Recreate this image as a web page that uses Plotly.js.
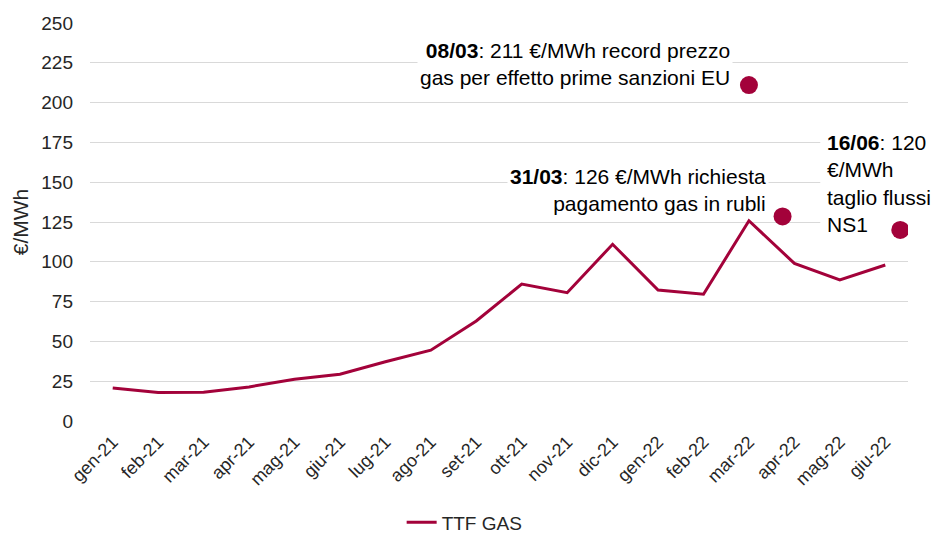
<!DOCTYPE html>
<html>
<head>
<meta charset="utf-8">
<script src="https://cdn.plot.ly/plotly-3.0.1.min.js"></script>
<style>html,body{margin:0;padding:0;background:#fff;}#chart{width:936px;height:535px;}</style>
</head>
<body>
<div id="chart"></div>
<script>
// Categories (months)
const months = ["gen-21","feb-21","mar-21","apr-21","mag-21","giu-21","lug-21","ago-21","set-21","ott-21","nov-21","dic-21","gen-22","feb-22","mar-22","apr-22","mag-22","giu-22"];
// TTF GAS monthly price (€/MWh)
const ttfGas = [20.8, 17.9, 18.0, 21.4, 26.2, 29.4, 37.2, 44.5, 62.8, 86.0, 80.6, 111.0, 82.3, 79.6, 125.8, 99.0, 88.6, 98.0];
// Events: position on the month axis (fractional month index) and value
const eventPos = [14.0, 14.74, 17.33];
const eventVal = [211, 128.5, 120];
const eventLabels = [
  "<b>08/03</b>: 211 €/MWh record prezzo<br>gas per effetto prime sanzioni EU",
  "<b>31/03</b>: 126 €/MWh richiesta<br>pagamento gas in rubli",
  "<b>16/06</b>: 120<br>€/MWh<br>taglio flussi<br>NS1"
];
const yTicks = [0,25,50,75,100,125,150,175,200,225,250];

const red = "#A3023A";
const font = "Liberation Sans, Arial, sans-serif";
const idx = months.map((m,i)=>i);

const traces = [
  {x: idx, y: ttfGas, type: "scatter", mode: "lines", name: "TTF GAS",
   line: {color: red, width: 3}},
  {x: eventPos, y: eventVal, type: "scatter", mode: "markers", showlegend: false,
   marker: {color: red, size: 18}, hoverinfo: "skip"}
];

const annSpec = [
  {xanchor: "right", align: "right", xshift: -16, yshift: 21, bg: "#ffffff"},
  {xanchor: "right", align: "right", xshift: -14, yshift: 26, bg: "#ffffff"},
  {xanchor: "left", align: "left", xshift: -76, yshift: 46, bg: "rgba(0,0,0,0)"}
];
const annotations = eventLabels.map((t,i)=>({
  x: eventPos[i], y: eventVal[i], xref: "x", yref: "y", text: t, showarrow: false,
  xanchor: annSpec[i].xanchor, yanchor: "middle", align: annSpec[i].align,
  xshift: annSpec[i].xshift, yshift: annSpec[i].yshift,
  bgcolor: annSpec[i].bg, borderpad: 2,
  font: {family: font, size: 21, color: "#000000"}
}));

// white mask behind the third label (under the traces, over the gridlines)
const shapes = [{
  type: "rect", layer: "between", xref: "x", yref: "y",
  xsizemode: "pixel", ysizemode: "pixel",
  xanchor: eventPos[2], yanchor: eventVal[2],
  x0: -80, x1: 40, y0: -10, y1: 102,
  fillcolor: "#ffffff", line: {width: 0}
}];

const layout = {
  width: 936, height: 535,
  margin: {l: 90, r: 28, t: 23, b: 114, autoexpand: false},
  paper_bgcolor: "#fff", plot_bgcolor: "#fff",
  font: {family: font, size: 18, color: "#262626"},
  showlegend: true,
  legend: {orientation: "h", x: 0.381, xanchor: "left", y: -0.255, yanchor: "middle",
           font: {family: font, size: 19, color: "#262626"}},
  xaxis: {
    type: "linear", range: [-0.5, 17.5], tickmode: "array", tickvals: idx, ticktext: months,
    tickangle: -45, showgrid: false, zeroline: false, showline: false, ticks: "",
    automargin: false, ticklabelstandoff: 6,
    tickfont: {family: font, size: 18, color: "#262626"}, fixedrange: true
  },
  yaxis: {
    range: [0, 250], tickmode: "array", tickvals: yTicks, showgrid: true,
    gridcolor: "#d9d9d9", gridwidth: 1, zeroline: false, showline: false, ticks: "",
    ticklabelstandoff: 16, automargin: false,
    tickfont: {family: font, size: 19, color: "#262626"},
    title: {text: "€/MWh", font: {family: font, size: 21, color: "#262626"}, standoff: 6},
    fixedrange: true
  },
  shapes: shapes,
  annotations: annotations
};

Plotly.newPlot("chart", traces, layout, {displayModeBar: false, staticPlot: true});
</script>
</body>
</html>
